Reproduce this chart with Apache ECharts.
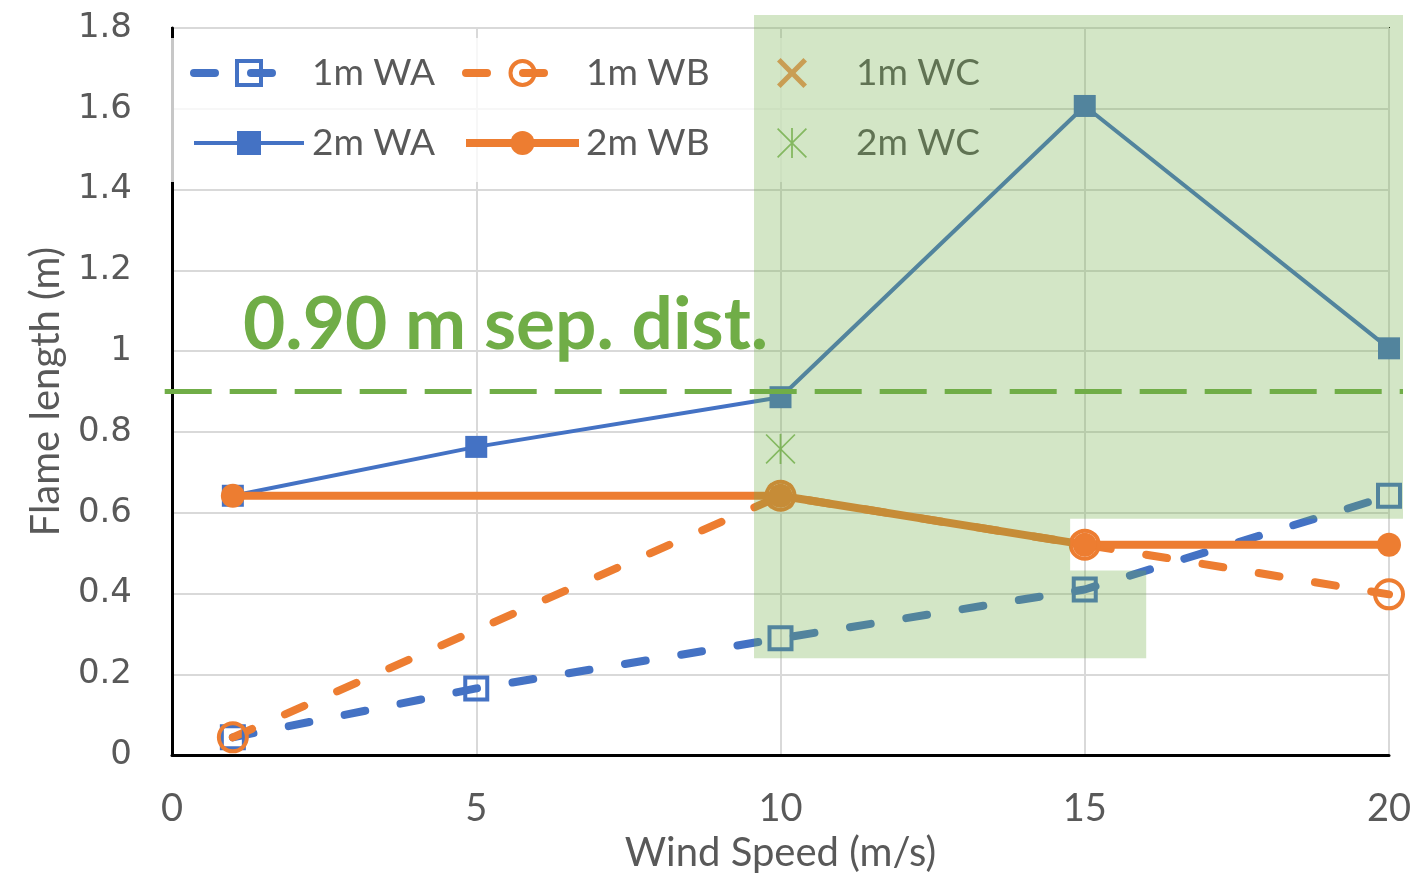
<!DOCTYPE html>
<html>
<head>
<meta charset="utf-8">
<script src="https://cdn.jsdelivr.net/npm/echarts@6/dist/echarts.min.js"></script>
<style>
  html, body { margin: 0; padding: 0; background: #fff; }
  #chart { width: 1417px; height: 878px; }
</style>
</head>
<body>
<div id="chart"></div>
<script>
// Flame length measurements by wind speed
const xTicks = [0, 5, 10, 15, 20];
const yTicks = [0, 0.2, 0.4, 0.6, 0.8, 1, 1.2, 1.4, 1.6, 1.8];

const wa1mSpeed = [1, 5, 10, 15, 20];
const wa1mLength = [0.044, 0.165, 0.289, 0.41, 0.642];

const wb1mSpeed = [1, 10, 15, 20];
const wb1mLength = [0.044, 0.642, 0.521, 0.398];

const wc1mSpeed = [10];
const wc1mLength = [0.642];

const wa2mSpeed = [1, 5, 10, 15, 20];
const wa2mLength = [0.642, 0.763, 0.886, 1.607, 1.007];

const wb2mSpeed = [1, 10, 15, 20];
const wb2mLength = [0.642, 0.642, 0.521, 0.521];

const wc2mSpeed = [10];
const wc2mLength = [0.758];

// Separation distance reference line
const sepDistance = 0.90;
const sepLineSpan = [-0.12, 20.23];

// Outline of the highlighted region (wind speed, flame length)
const zoneX = [9.565, 20.23, 20.23, 14.76, 14.76, 16.01, 16.01, 9.565];
const zoneY = [1.832, 1.832, 0.585, 0.585, 0.457, 0.457, 0.2395, 0.2395];

const pairs = (xs, ys) => xs.map((x, i) => [x, ys[i]]);

const BLUE = '#4472c4';
const ORANGE = '#ed7d31';
const GREEN = '#70ad47';
const TEXT = '#595959';
const FONT = 'Lato, "Open Sans", sans-serif';
const DASH = [21, 36];

const X_MARK = 'path://M0,12L12,0L50,38L88,0L100,12L62,50L100,88L88,100L50,62L12,100L0,88L38,50Z';
const STAR_MARK = 'path://M47,0L53,0L53,100L47,100ZM0,4L4,0L100,96L96,100ZM96,0L100,4L4,100L0,96Z';

const chart = echarts.init(document.getElementById('chart'), null, { renderer: 'canvas' });

const legendBase = {
  orient: 'vertical',
  top: 51,
  padding: 0,
  itemGap: 26,
  itemHeight: 30,
  textStyle: { color: TEXT, fontSize: 37, fontFamily: FONT, lineHeight: 44 },
  lineStyle: { width: 'inherit' },
  itemStyle: { borderWidth: 'inherit' },
  selectedMode: false
};

const option = {
  animation: false,
  backgroundColor: '#fff',
  grid: {
    left: 172, right: 28, top: 28, bottom: 121,
    show: true, borderColor: '#000', borderWidth: 2, backgroundColor: 'transparent'
  },
  xAxis: {
    type: 'value', min: 0, max: 20, interval: 5,
    name: 'Wind Speed (m/s)', nameLocation: 'middle', nameGap: 76,
    nameTextStyle: { color: TEXT, fontSize: 40, fontFamily: FONT },
    axisLine: { show: true, onZero: false, lineStyle: { color: '#000', width: 3 } },
    axisTick: { show: false },
    axisLabel: { color: TEXT, fontSize: 38, fontFamily: FONT, margin: 35,
      formatter: v => (xTicks.includes(v) ? String(v) : '') },
    splitLine: { show: true, lineStyle: { color: '#d9d9d9', width: 2 } }
  },
  yAxis: {
    type: 'value', min: 0, max: 1.8, interval: 0.2,
    name: 'Flame length (m)', nameLocation: 'middle', nameGap: 106,
    nameTextStyle: { color: TEXT, fontSize: 40, fontFamily: FONT },
    axisLine: { show: true, onZero: false, lineStyle: { color: '#000', width: 3 } },
    axisTick: { show: false },
    axisLabel: { color: TEXT, fontSize: 34, fontFamily: '"DejaVu Sans", sans-serif', margin: 40,
      formatter: v => {
        const t = yTicks.find(k => Math.abs(k - v) < 1e-6);
        return t === undefined ? '' : String(t);
      } },
    splitLine: { show: true, lineStyle: { color: '#d9d9d9', width: 2 } }
  },
  legend: [
    Object.assign({}, legendBase, {
      left: 190, itemWidth: 110,
      data: ['1m WA', '2m WA'],
      textStyle: Object.assign({}, legendBase.textStyle, { padding: [0, 0, 0, 3] })
    }),
    Object.assign({}, legendBase, {
      left: 462, itemWidth: 113,
      data: ['1m WB', '2m WB'],
      textStyle: Object.assign({}, legendBase.textStyle, { padding: [0, 0, 0, 2] })
    }),
    Object.assign({}, legendBase, {
      left: 777, itemWidth: 30,
      data: ['1m WC', '2m WC'],
      textStyle: Object.assign({}, legendBase.textStyle, { padding: [0, 0, 0, 44] })
    })
  ],
  graphic: [
    {
      type: 'rect', z: 3, silent: true,
      shape: { x: 168, y: 38, width: 822, height: 144 },
      style: { fill: 'rgba(255,255,255,0.78)' }
    },
    {
      type: 'text', z: 5, silent: true, left: 243, top: 289,
      style: {
        text: sepDistance.toFixed(2) + ' m sep. dist.',
        fill: GREEN, fontSize: 73, fontWeight: 'bold', fontFamily: FONT
      }
    }
  ],
  series: [
    {
      name: '1m WA', type: 'line', z: 2,
      data: pairs(wa1mSpeed, wa1mLength),
      symbol: 'rect', symbolSize: 22,
      lineStyle: { color: BLUE, width: 8, type: DASH, cap: 'round' },
      itemStyle: { color: 'rgba(0,0,0,0)', borderColor: BLUE, borderWidth: 4 }
    },
    {
      name: '1m WB', type: 'line', z: 2,
      data: pairs(wb1mSpeed, wb1mLength),
      symbol: 'circle', symbolSize: 28,
      lineStyle: { color: ORANGE, width: 8, type: DASH, cap: 'round' },
      itemStyle: { color: 'rgba(0,0,0,0)', borderColor: ORANGE, borderWidth: 4 }
    },
    {
      name: '1m WC', type: 'scatter', z: 2,
      data: pairs(wc1mSpeed, wc1mLength),
      symbol: X_MARK, symbolSize: 26,
      itemStyle: { color: ORANGE }
    },
    {
      name: '2m WA', type: 'line', z: 2,
      data: pairs(wa2mSpeed, wa2mLength),
      symbol: 'rect', symbolSize: 22,
      lineStyle: { color: BLUE, width: 4 },
      itemStyle: { color: BLUE }
    },
    {
      name: '2m WB', type: 'line', z: 2,
      data: pairs(wb2mSpeed, wb2mLength),
      symbol: 'circle', symbolSize: 24,
      lineStyle: { color: ORANGE, width: 8 },
      itemStyle: { color: ORANGE }
    },
    {
      name: '2m WC', type: 'scatter', z: 2,
      data: pairs(wc2mSpeed, wc2mLength),
      symbol: STAR_MARK, symbolSize: 30,
      itemStyle: { color: GREEN }
    },
    {
      name: 'sep', type: 'custom', z: 3, clip: false, silent: true,
      encode: { x: [0, 1], y: 2 },
      data: [[sepLineSpan[0], sepLineSpan[1], sepDistance]],
      renderItem: (params, api) => {
        const a = api.coord([api.value(0), api.value(2)]);
        const b = api.coord([api.value(1), api.value(2)]);
        return {
          type: 'line',
          shape: { x1: a[0], y1: a[1], x2: b[0], y2: b[1] },
          style: { stroke: GREEN, lineWidth: 5, lineDash: [47, 18] }
        };
      }
    },
    {
      name: 'zone', type: 'custom', z: 10, clip: false, silent: true,
      encode: { x: 0, y: 1 },
      data: [[zoneX[0], zoneY[0]]],
      renderItem: (params, api) => {
        const pts = zoneX.map((x, i) => api.coord([x, zoneY[i]]));
        return {
          type: 'polygon',
          shape: { points: pts },
          style: { fill: 'rgba(112,173,71,0.31)' }
        };
      }
    }
  ]
};

chart.setOption(option);
</script>
</body>
</html>
